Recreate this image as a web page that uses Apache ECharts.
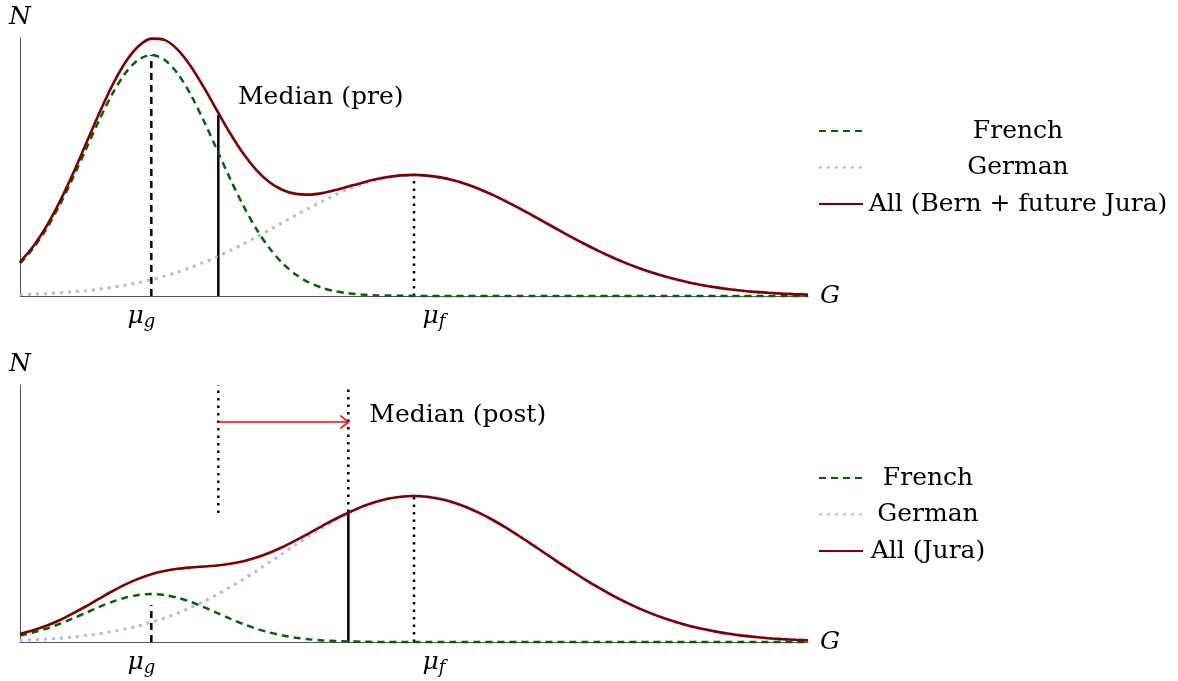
<!DOCTYPE html>
<html>
<head>
<meta charset="utf-8">
<script src="https://cdn.jsdelivr.net/npm/echarts@6/dist/echarts.min.js"></script>
<style>
  html, body { margin: 0; padding: 0; background: #fff; }
  #chart { width: 1178px; height: 681px; }
</style>
</head>
<body>
<div id="chart"></div>
<script>
// G positions, 0 .. 6 in steps of 0.1 (mu_g = 1, mu_f = 3)
const gValues = [
  0, 0.1, 0.2, 0.3, 0.4, 0.5, 0.6, 0.7, 0.8, 0.9,
  1, 1.1, 1.2, 1.3, 1.4, 1.5, 1.6, 1.7, 1.8, 1.9,
  2, 2.1, 2.2, 2.3, 2.4, 2.5, 2.6, 2.7, 2.8, 2.9,
  3, 3.1, 3.2, 3.3, 3.4, 3.5, 3.6, 3.7, 3.8, 3.9,
  4, 4.1, 4.2, 4.3, 4.4, 4.5, 4.6, 4.7, 4.8, 4.9,
  5, 5.1, 5.2, 5.3, 5.4, 5.5, 5.6, 5.7, 5.8, 5.9, 6
];

// upper panel (pre)
const frenchPre = [
  32.6, 47.7, 67.0, 90.4, 117.3, 146.2, 175.0, 201.3, 222.5, 236.2,
  241, 236.2, 222.5, 201.3, 175.0, 146.2, 117.3, 90.4, 67.0, 47.7,
  32.6, 21.4, 13.5, 8.2, 4.8, 2.7, 1.4, 0.7, 0.4, 0.2,
  0.1, 0, 0, 0, 0, 0, 0, 0, 0, 0,
  0, 0, 0, 0, 0, 0, 0, 0, 0, 0,
  0, 0, 0, 0, 0, 0, 0, 0, 0, 0, 0
];
const germanPre = [
  1.3, 1.8, 2.4, 3.2, 4.1, 5.3, 6.8, 8.6, 10.8, 13.3,
  16.4, 19.9, 23.9, 28.5, 33.6, 39.3, 45.4, 52.0, 58.9, 66.1,
  73.4, 80.7, 87.9, 94.7, 101.1, 106.8, 111.7, 115.7, 118.6, 120.4,
  121, 120.4, 118.6, 115.7, 111.7, 106.8, 101.1, 94.7, 87.9, 80.7,
  73.4, 66.1, 58.9, 52.0, 45.4, 39.3, 33.6, 28.5, 23.9, 19.9,
  16.4, 13.3, 10.8, 8.6, 6.8, 5.3, 4.1, 3.2, 2.4, 1.8, 1.3
];
const allPre = [
  33.9, 49.5, 69.4, 93.6, 121.4, 151.5, 181.8, 209.9, 233.3, 249.5,
  257.4, 256.1, 246.4, 229.8, 208.6, 185.5, 162.7, 142.4, 125.9, 113.8,
  106.0, 102.1, 101.4, 102.9, 105.9, 109.5, 113.1, 116.4, 119.0, 120.6,
  121.1, 120.4, 118.6, 115.7, 111.7, 106.8, 101.1, 94.7, 87.9, 80.7,
  73.4, 66.1, 58.9, 52.0, 45.4, 39.3, 33.6, 28.5, 23.9, 19.9,
  16.4, 13.3, 10.8, 8.6, 6.8, 5.3, 4.1, 3.2, 2.4, 1.8, 1.3
];

// lower panel (post)
const frenchPost = [
  6.5, 9.5, 13.3, 18.0, 23.4, 29.1, 34.9, 40.1, 44.3, 47.0,
  48, 47.0, 44.3, 40.1, 34.9, 29.1, 23.4, 18.0, 13.3, 9.5,
  6.5, 4.3, 2.7, 1.6, 1.0, 0.5, 0.3, 0.1, 0.1, 0,
  0, 0, 0, 0, 0, 0, 0, 0, 0, 0,
  0, 0, 0, 0, 0, 0, 0, 0, 0, 0,
  0, 0, 0, 0, 0, 0, 0, 0, 0, 0, 0
];
const germanPost = [
  1.6, 2.2, 2.9, 3.8, 5.0, 6.4, 8.2, 10.4, 13.0, 16.1,
  19.8, 24.0, 28.9, 34.4, 40.6, 47.4, 54.8, 62.7, 71.1, 79.7,
  88.5, 97.4, 106.0, 114.3, 122.0, 128.8, 134.8, 139.6, 143.1, 145.3,
  146, 145.3, 143.1, 139.6, 134.8, 128.8, 122.0, 114.3, 106.0, 97.4,
  88.5, 79.7, 71.1, 62.7, 54.8, 47.4, 40.6, 34.4, 28.9, 24.0,
  19.8, 16.1, 13.0, 10.4, 8.2, 6.4, 5.0, 3.8, 2.9, 2.2, 1.6
];
const allPost = [
  8.1, 11.7, 16.2, 21.8, 28.4, 35.5, 43.1, 50.5, 57.3, 63.1,
  67.8, 71.0, 73.2, 74.5, 75.5, 76.5, 78.2, 80.7, 84.4, 89.2,
  95.0, 101.7, 108.7, 115.9, 123.0, 129.3, 135.1, 139.7, 143.2, 145.3,
  146, 145.3, 143.1, 139.6, 134.8, 128.8, 122.0, 114.3, 106.0, 97.4,
  88.5, 79.7, 71.1, 62.7, 54.8, 47.4, 40.6, 34.4, 28.9, 24.0,
  19.8, 16.1, 13.0, 10.4, 8.2, 6.4, 5.0, 3.8, 2.9, 2.2, 1.6
];

const muG = 1;
const muF = 3;
const medianPre = 1.51;
const medianPost = 2.5;
// marker heights
const preMarks = { muG: 241, muF: 121, median: 181 };
const postMarks = { muG: 37, muF: 146, median: 130, top: 257, oldBottom: 129, arrow: 220 };

const serif = "'DejaVu Serif', 'Liberation Serif', serif";
const fontSize = 25;
const green = "#006400";
const lavender = "#b3b3ff";
const darkRed = "#800000";

function pairs(ys) {
  return gValues.map((g, i) => [g, ys[i]]);
}

function curve(name, ys, idx, style) {
  return {
    name,
    type: "line",
    xAxisIndex: idx,
    yAxisIndex: idx,
    smooth: 0.3,
    symbol: "none",
    silent: true,
    clip: false,
    z: style.z,
    lineStyle: style.lineStyle,
    itemStyle: { color: style.lineStyle.color },
    data: pairs(ys)
  };
}

function vline(idx, x, y0, y1, type) {
  return {
    type: "line",
    xAxisIndex: idx,
    yAxisIndex: idx,
    symbol: "none",
    silent: true,
    z: 1,
    lineStyle: { color: "#000", width: 2.5, type: type, cap: "butt" },
    data: [[x, y0], [x, y1]]
  };
}

function textAt(idx, x, y, text) {
  return {
    type: "scatter",
    xAxisIndex: idx,
    yAxisIndex: idx,
    symbolSize: 0,
    silent: true,
    itemStyle: { opacity: 1 },
    label: {
      show: true,
      position: "right",
      distance: 0,
      formatter: text,
      color: "#000",
      opacity: 1,
      fontFamily: serif,
      fontSize: fontSize
    },
    data: [[x, y]]
  };
}

const frenchStyle = { z: 3, lineStyle: { color: green, width: 2.5, type: [7, 5], cap: "butt" } };
const germanStyle = { z: 2, lineStyle: { color: lavender, width: 3, type: [3, 5], cap: "butt" } };
const allStyle = { z: 4, lineStyle: { color: darkRed, width: 2.6 } };

const italic = { fontFamily: serif, fontStyle: "italic", fontSize: fontSize, color: "#000" };

function xAxisFor(idx) {
  return {
    type: "value",
    gridIndex: idx,
    min: 0,
    max: 6,
    name: "G",
    nameLocation: "end",
    nameGap: 12,
    nameTextStyle: italic,
    axisLine: { lineStyle: { color: "#555", width: 1 } },
    axisTick: { show: false },
    splitLine: { show: false },
    axisLabel: {
      customValues: [muG, muF],
      margin: 5,
      formatter: v => (v === muG ? "{m|μ}{s|g}{r|}" : "{l|}{m|μ}{s|f}"),
      rich: {
        m: italic,
        s: { fontFamily: serif, fontStyle: "italic", fontSize: 18, color: "#000", padding: [12, 0, 0, 0] },
        r: { width: 20 },
        l: { width: 40 }
      }
    }
  };
}

function yAxisFor(idx, max) {
  return {
    type: "value",
    gridIndex: idx,
    min: 0,
    max: max,
    name: "N",
    nameLocation: "end",
    nameGap: 8,
    nameTextStyle: italic,
    axisLine: { lineStyle: { color: "#555", width: 1 } },
    axisTick: { show: false },
    axisLabel: { show: false },
    splitLine: { show: false }
  };
}

function legendFor(top, names, width) {
  return {
    orient: "vertical",
    left: 818,
    top: top,
    padding: 0,
    itemWidth: 44,
    itemHeight: 14,
    itemGap: 10.5,
    selectedMode: false,
    itemStyle: { opacity: 0 },
    data: names,
    formatter: "{t|{name}}",
    textStyle: {
      rich: {
        t: { fontFamily: serif, fontSize: fontSize, color: "#000", width: width, align: "center", height: 26, lineHeight: 26 }
      }
    }
  };
}

const chart = echarts.init(document.getElementById("chart"), null, { renderer: "canvas" });

const arrowHead = "path://M0,0 L8,6.5 L0,13";

const option = {
  animation: false,
  backgroundColor: "#fff",
  grid: [
    { left: 20, top: 38, width: 788, height: 258 },
    { left: 20, top: 385, width: 788, height: 257 }
  ],
  xAxis: [xAxisFor(0), xAxisFor(1)],
  yAxis: [yAxisFor(0, 258), yAxisFor(1, 257)],
  legend: [
    legendFor(118, ["French", "German", "All (Bern + future Jura)"], 300),
    legendFor(465, ["French", "German", "All (Jura)"], 120)
  ],
  series: [
    // upper panel
    vline(0, muG, 0, preMarks.muG, [7, 5]),
    vline(0, muF, 0, preMarks.muF, [2.5, 5]),
    vline(0, medianPre, 0, preMarks.median, "solid"),
    curve("French", frenchPre, 0, frenchStyle),
    curve("German", germanPre, 0, germanStyle),
    curve("All (Bern + future Jura)", allPre, 0, allStyle),
    textAt(0, 1.66, 199, "Median (pre)"),

    // lower panel
    vline(1, muG, 0, postMarks.muG, [7, 5]),
    vline(1, muF, 0, postMarks.muF, [2.5, 5]),
    vline(1, medianPost, 0, postMarks.median, "solid"),
    vline(1, medianPre, postMarks.oldBottom, postMarks.top, [2.5, 5]),
    vline(1, medianPost, postMarks.median, postMarks.top, [2.5, 5]),
    curve("French", frenchPost, 1, frenchStyle),
    curve("German", germanPost, 1, germanStyle),
    curve("All (Jura)", allPost, 1, allStyle),
    {
      type: "line",
      xAxisIndex: 1,
      yAxisIndex: 1,
      silent: true,
      z: 5,
      lineStyle: { color: "#ff0000", width: 1.5 },
      itemStyle: { color: "transparent", borderColor: "#ff0000", borderWidth: 1.5 },
      data: [
        { value: [medianPre, postMarks.arrow], symbol: "none" },
        { value: [medianPost, postMarks.arrow], symbol: arrowHead, symbolSize: [8, 13], symbolOffset: [-4, 0] }
      ]
    },
    textAt(1, 2.66, 227, "Median (post)")
  ]
};

chart.setOption(option);
window.addEventListener("resize", () => {
  chart.resize();
});
</script>
</body>
</html>
